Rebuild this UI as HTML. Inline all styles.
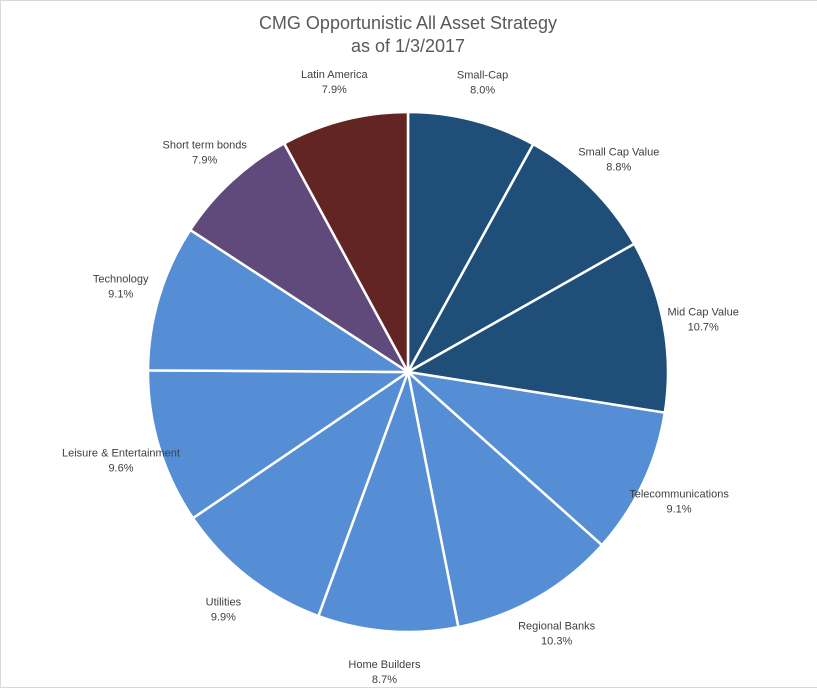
<!DOCTYPE html>
<html><head><meta charset="utf-8"><style>
body{margin:0;background:#fff;}
svg{display:block;font-family:"Liberation Sans",sans-serif;}
</style></head><body>
<svg id="chart" width="817" height="690" viewBox="0 0 817 690">
<rect x="0.5" y="0.5" width="830" height="687" fill="#fff" stroke="#d9d9d9"/>
<text x="408" y="29" text-anchor="middle" font-size="18" fill="#595959">CMG Opportunistic All Asset Strategy</text>
<text x="408" y="52" text-anchor="middle" font-size="18" fill="#595959">as of 1/3/2017</text>
<g id="slices"></g>
<g id="labels"></g>
</svg>
<script>
const categories = ["Small-Cap","Small Cap Value","Mid Cap Value","Telecommunications","Regional Banks","Home Builders","Utilities","Leisure & Entertainment","Technology","Short term bonds","Latin America"];
const values = [8.0,8.8,10.7,9.1,10.3,8.7,9.9,9.6,9.1,7.9,7.9];
const labelsText = ["8.0%","8.8%","10.7%","9.1%","10.3%","8.7%","9.9%","9.6%","9.1%","7.9%","7.9%"];
const colors = ["#1f4e79","#1f4e79","#1f4e79","#558ed5","#558ed5","#558ed5","#558ed5","#558ed5","#558ed5","#604a7b","#632523"];
const NS="http://www.w3.org/2000/svg";
const cx=408, cy=372, R=260, LR=300;
const total=values.reduce((a,b)=>a+b,0);
const sg=document.getElementById('slices'), lg=document.getElementById('labels');
function pt(a,r){return [cx+r*Math.sin(a), cy-r*Math.cos(a)];}
let acc=0;
values.forEach((v,i)=>{
  const a0=acc/total*2*Math.PI; acc+=v; const a1=acc/total*2*Math.PI;
  const p0=pt(a0,R), p1=pt(a1,R);
  const large=(a1-a0)>Math.PI?1:0;
  const path=document.createElementNS(NS,'path');
  path.setAttribute('d',`M${cx},${cy} L${p0[0]},${p0[1]} A${R},${R} 0 ${large} 1 ${p1[0]},${p1[1]} Z`);
  path.setAttribute('fill',colors[i]);
  path.setAttribute('stroke','#fff');
  path.setAttribute('stroke-width','2.5');
  
  
  sg.appendChild(path);
  const am=(a0+a1)/2; const lp=pt(am,LR);
  const t=document.createElementNS(NS,'text');
  t.setAttribute('text-anchor','middle');
  t.setAttribute('font-size','11');
  t.setAttribute('fill','#404040');
  
  
  const s1=document.createElementNS(NS,'tspan');
  s1.setAttribute('x',lp[0]); s1.setAttribute('y',lp[1]-3); s1.textContent=categories[i];
  const s2=document.createElementNS(NS,'tspan');
  s2.setAttribute('x',lp[0]); s2.setAttribute('y',lp[1]+12); s2.textContent=labelsText[i];
  t.appendChild(s1); t.appendChild(s2);
  lg.appendChild(t);
});
</script>
</body></html>
